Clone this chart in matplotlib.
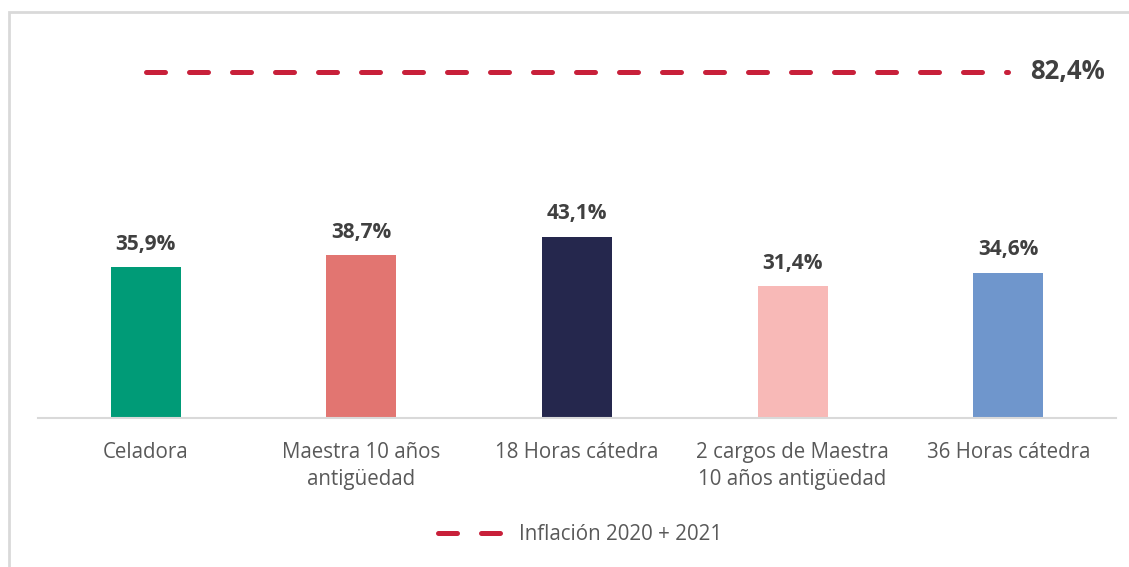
import matplotlib.pyplot as plt
from matplotlib.patches import Rectangle

categories = ["Celadora", "Maestra 10 años\nantigüedad", "18 Horas cátedra",
              "2 cargos de Maestra\n10 años antigüedad", "36 Horas cátedra"]
values = [35.9, 38.7, 43.1, 31.4, 34.6]
inflation = 82.4
colors = ["#009B77", "#E27571", "#25274D", "#F8B9B7", "#6F96CC"]

plt.rcParams["font.family"] = ["Open Sans", "DejaVu Sans"]

fig = plt.figure(figsize=(11.29, 5.67), dpi=100)
ax = fig.add_axes([38 / 1129, 149 / 567, 1078 / 1129, 399 / 567])

x = list(range(len(categories)))
ax.bar(x, values, width=0.325, color=colors, zorder=2)
for xi, v in zip(x, values):
    ax.text(xi, v + 3.0, f"{v:.1f}%".replace(".", ","), ha="center", va="bottom",
            fontsize=15, fontweight="bold", color="#404040")

lw = 5 * 72 / 100
line, = ax.plot([x[0], x[-1]], [inflation] * 2, color="#C8203A", lw=lw,
                dashes=(3.8, 4.8), dash_capstyle="round",
                label="Inflación 2020 + 2021", zorder=3)
ax.text(x[-1] + 0.1, inflation, f"{inflation:.1f}%".replace(".", ","),
        ha="left", va="center", fontsize=18.5, fontweight="bold", color="#404040")

ax.set_xlim(-0.5, len(categories) - 0.5)
ax.set_ylim(0, 95)
ax.set_yticks([])
ax.set_xticks(x)
ax.set_xticklabels(categories, fontsize=14.8, color="#595959", linespacing=1.4)
ax.tick_params(axis="x", length=0, pad=17)
for s in ["top", "right", "left"]:
    ax.spines[s].set_visible(False)
ax.spines["bottom"].set_color("#D9D9D9")
ax.spines["bottom"].set_linewidth(1.5)

fig.legend(handles=[line], loc="center", bbox_to_anchor=(580 / 1129, 1 - 535 / 567),
           frameon=False, fontsize=14.8, labelcolor="#595959", handlelength=3.5,
           handletextpad=0.4)

fig.patches.append(Rectangle((9 / 1129, -0.1), 1.2, (567 - 12) / 567 + 0.1,
                             transform=fig.transFigure, fill=False,
                             edgecolor="#D9D9D9", lw=2))

fig.savefig("out.png", dpi=100)
